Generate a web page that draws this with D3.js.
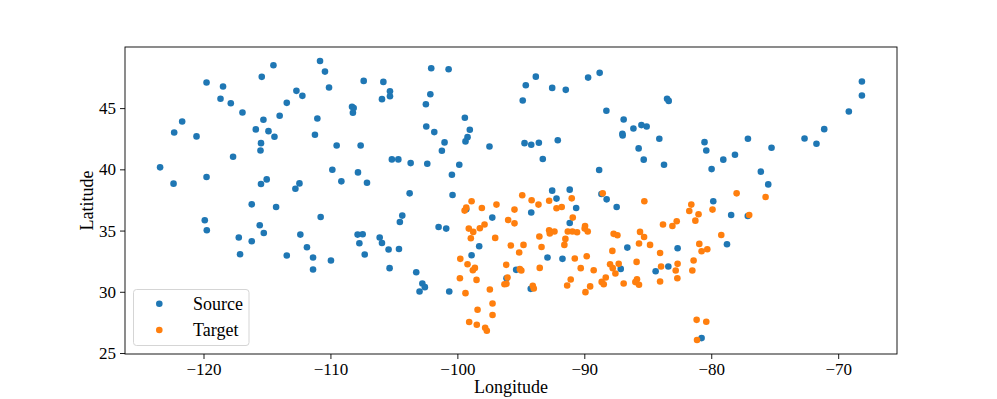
<!DOCTYPE html>
<html><head><meta charset="utf-8">
<script src="https://cdn.jsdelivr.net/npm/d3@7"></script>
<style>body{margin:0;background:#fff}svg{display:block}text{font-family:"Liberation Serif",serif}</style>
</head><body><svg id="c" width="997" height="399"></svg>
<script>
const sourceLon = [-119.76,-118.46,-118.66,-117.85,-116.93,-115.41,-114.49,-121.68,-122.31,-120.55,-115.28,-115.88,-114.88,-114.41,-115.47,-115.51,-117.67,-123.42,-122.36,-119.76,-115.47,-115.02,-112.76,-112.44,-114.00,-113.44,-112.68,-112.21,-110.82,-110.43,-111.03,-111.22,
-110.11,-107.38,-105.83,-105.31,-105.31,-105.94,-102.06,-100.69,-102.13,-102.48,-108.30,-108.17,-108.23,-99.41,-99.02,-99.20,-99.36,-102.45,-101.82,-101.01,-101.22,-97.47,-109.51,-107.62,-105.16,-104.65,-103.68,-102.37,-99.85,-100.43,-109.85,-107.83,-109.14,-107.12,-103.76,-100.38,
-94.61,-93.82,-94.85,-92.53,-91.46,-89.70,-88.79,-88.26,-86.90,-87.00,-86.98,-86.13,-85.50,-85.09,-83.48,-83.35,-84.09,-85.72,-85.32,-83.72,-80.53,-80.39,-79.97,-94.71,-94.18,-93.58,-92.09,-93.27,-88.83,-92.53,-91.15,-88.65,
-68.13,-68.13,-69.16,-71.10,-72.65,-71.71,-77.11,-75.25,-78.13,-79.05,-76.09,-75.51,
-116.20,-114.28,-119.90,-119.74,-110.77,-115.57,-115.25,-117.22,-116.20,-117.12,-112.37,-111.85,-113.44,-111.37,-111.37,
-104.34,-104.53,-107.86,-107.46,-107.72,-106.12,-105.94,-107.30,-105.42,-104.60,-109.96,-105.34,-103.24,-102.76,-102.56,-102.98,-100.64,-101.48,-100.88,-97.25,-98.28,-98.88,-95.37,-96.13,-99.30,
-92.19,-94.18,-90.64,-91.15,-88.24,-87.45,-79.84,-86.61,-82.65,-92.90,-91.72,-87.13,-83.38,-84.38,-94.22,-80.76,
-78.43,-77.12,-78.76];
const sourceLat = [47.09,46.76,45.76,45.40,44.64,47.55,48.50,43.91,43.01,42.69,44.05,43.26,43.12,42.66,42.14,41.54,41.03,40.16,38.83,39.37,38.80,39.18,38.42,38.85,44.37,45.43,46.41,46.00,48.85,47.98,44.15,42.82,
46.68,47.22,47.14,46.38,45.97,45.73,48.25,48.17,46.13,45.32,45.11,45.00,44.62,44.21,43.23,42.63,42.28,43.50,43.04,42.20,41.52,41.87,41.95,41.95,40.81,40.81,40.51,40.46,40.38,39.56,39.97,39.75,39.02,38.91,38.04,37.90,
46.87,47.57,45.62,46.65,46.49,47.49,47.88,44.78,44.07,42.90,42.77,43.34,43.61,43.50,45.76,45.59,42.50,41.71,40.79,40.38,42.22,41.54,40.02,42.14,42.01,42.17,42.38,40.84,39.94,38.26,38.34,37.98,
47.17,46.03,44.72,43.28,42.52,42.09,42.50,41.76,41.19,40.79,39.81,38.77,
37.14,36.92,35.84,35.02,36.11,35.43,34.80,34.43,34.13,33.07,34.67,33.64,32.96,32.80,31.82,
36.22,35.70,34.67,34.70,33.96,34.43,33.99,33.04,33.45,33.50,32.55,31.93,31.60,30.68,30.38,30.03,30.03,35.29,35.16,36.06,33.72,32.99,31.79,31.11,36.74,
37.61,36.47,36.84,35.62,37.55,36.92,37.39,33.61,33.56,32.80,32.69,31.87,32.07,31.68,30.24,26.22,
36.27,36.19,33.88];
const targetLon = [-94.89,-88.55,-78.00,-75.72,
-98.88,-99.30,-99.43,-98.07,-96.92,-95.50,-96.00,-95.50,-99.10,-98.75,-98.23,-97.86,-98.94,-97.02,-95.79,-95.13,-99.77,-99.20,-98.62,-98.78,-96.15,-95.08,-99.80,-98.49,-96.05,-96.29,-96.13,-99.36,-97.44,-97.23,-98.41,-97.23,-99.07,-98.47,-97.81,-97.68,
-94.15,-93.61,-92.77,-92.19,-91.78,-90.99,-90.91,-85.27,-81.57,-81.73,-81.00,-81.25,-79.90,-83.80,-83.06,-82.72,-93.54,-92.77,-92.72,-92.35,-91.30,-90.94,-90.57,-89.94,-89.97,-89.73,-91.49,-91.57,-94.79,-93.37,-90.75,-89.81,-87.69,-87.39,-85.61,-85.29,-85.69,-84.82,-87.79,-84.03,-80.94,-80.31,-80.76,-81.39,-81.49,-82.65,-82.80,-82.67,-83.95,-84.03,-85.88,-85.85,-85.98,-85.69,-86.90,-87.97,-87.76,-87.29,-87.55,-88.31,-88.63,-88.47,-89.54,-89.91,-89.26,-90.28,-91.07,-91.35,-93.51,-94.96,-94.06,-93.98,-81.15,-80.39,-81.12,
-77.01,-79.21];
const targetLat = [37.88,38.04,38.04,37.74,
37.39,36.87,36.63,36.84,37.12,36.71,35.86,35.59,35.16,34.89,35.19,35.49,34.37,34.40,33.78,33.21,32.69,32.25,31.95,31.76,32.20,31.85,31.11,30.97,31.17,30.62,30.65,29.89,30.19,29.05,28.53,28.10,27.53,27.31,27.06,26.82,
37.47,37.12,37.44,36.82,36.92,37.63,36.06,37.39,37.12,36.60,36.33,35.81,36.71,35.49,35.37,35.76,34.51,35.02,34.76,34.92,34.92,34.92,34.86,35.37,35.16,34.92,34.32,33.83,33.83,33.66,32.72,32.90,34.73,34.62,34.89,34.48,33.94,33.83,33.34,33.17,33.91,33.48,33.31,32.55,31.74,32.28,31.74,31.11,32.07,30.84,32.44,31.03,30.79,30.57,30.68,32.25,31.93,32.28,31.50,31.17,30.81,30.62,30.44,29.97,31.76,31.93,31.01,30.52,31.95,31.74,30.49,30.27,27.71,27.55,26.06,
36.27,34.64];
const xTicks = [-120,-110,-100,-90,-80,-70];
const yTicks = [25,30,35,40,45];
const seriesNames = ["Source","Target"];
const seriesColors = ["#1f77b4","#ff7f0e"];

const L=125,R=897,T=47,B=354;
const svg=d3.select("#c");
const allLon=sourceLon.concat(targetLon), allLat=sourceLat.concat(targetLat);
function pad(ext){const d=(ext[1]-ext[0])*0.05;return [ext[0]-d,ext[1]+d];}
const x=d3.scaleLinear().domain(pad(d3.extent(allLon))).range([L,R]);
const y=d3.scaleLinear().domain(pad(d3.extent(allLat))).range([B,T]);

const fmt=d=>d<0?"\u2212"+Math.abs(d):String(d);
const gx=svg.append("g").attr("transform",`translate(0,${B})`)
  .call(d3.axisBottom(x).tickValues(xTicks).tickFormat(fmt).tickSize(5).tickPadding(4));
const gy=svg.append("g").attr("transform",`translate(${L},0)`)
  .call(d3.axisLeft(y).tickValues(yTicks).tickFormat(fmt).tickSize(5).tickPadding(4));
[gx,gy].forEach(g=>{g.select(".domain").remove();g.selectAll("line").attr("stroke","#000").attr("stroke-width",0.9);
  g.selectAll("text").attr("font-family","Liberation Serif").attr("font-size",17).attr("fill","#000");});

const pts=[];
sourceLon.forEach((v,i)=>pts.push({lon:v,lat:sourceLat[i],s:0}));
targetLon.forEach((v,i)=>pts.push({lon:v,lat:targetLat[i],s:1}));
svg.append("g").selectAll("circle").data(pts).join("circle")
  .attr("cx",d=>x(d.lon)).attr("cy",d=>y(d.lat)).attr("r",3.3)
  .attr("fill",d=>seriesColors[d.s]);

svg.append("rect").attr("x",L).attr("y",T).attr("width",R-L).attr("height",B-T)
  .attr("fill","none").attr("stroke","#000").attr("stroke-width",0.9);

svg.append("text").attr("x",(L+R)/2).attr("y",393).attr("text-anchor","middle")
  .attr("font-size",18).text("Longitude");
svg.append("text").attr("transform",`translate(93,${(T+B)/2}) rotate(-90)`).attr("text-anchor","middle")
  .attr("font-size",18).text("Latitude");

const lg=svg.append("g");
lg.append("rect").attr("x",133.5).attr("y",289.5).attr("width",115.5).attr("height",56).attr("rx",3)
  .attr("fill","#fff").attr("fill-opacity",0.8).attr("stroke","#d5d5d5");
seriesNames.forEach((n,i)=>{
  const yy=303.7+i*26.3;
  lg.append("circle").attr("cx",159.3).attr("cy",yy).attr("r",3.3).attr("fill",seriesColors[i]);
  lg.append("text").attr("x",193).attr("y",yy).attr("dy","0.35em").attr("font-size",18).text(n);
});
</script></body></html>
